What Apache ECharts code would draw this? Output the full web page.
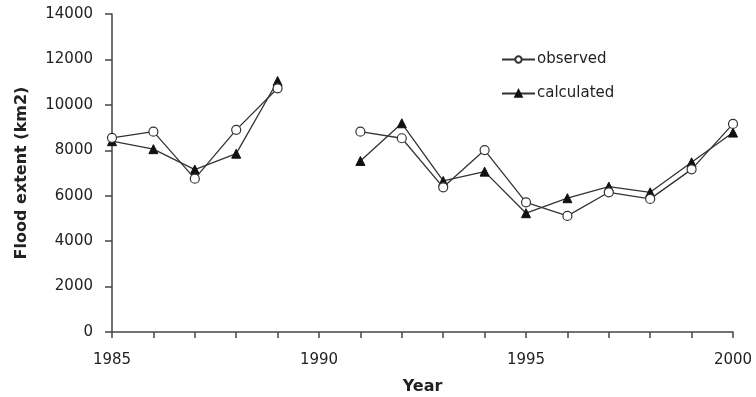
<!DOCTYPE html>
<html><head><meta charset="utf-8">
<script src="https://cdn.jsdelivr.net/npm/echarts@6/dist/echarts.min.js"></script>
<style>html,body{margin:0;padding:0;background:#fff}#c{width:756px;height:397px}</style>
</head><body><div id="c"></div>
<script>
var years = [1985,1986,1987,1988,1989,1990,1991,1992,1993,1994,1995,1996,1997,1998,1999,2000];
var observed   = [8550,8820,6750,8900,10730,null,8820,8530,6370,8010,5710,5110,6150,5860,7160,9160];
var calculated = [8400,8050,7150,7850,11050,null,7530,9190,6650,7060,5230,5890,6400,6150,7470,8780];
var yTicks = [0,2000,4000,6000,8000,10000,12000,14000];

function pairs(v){ return years.map(function(y,i){ return [y, v[i]===null?'-':v[i]]; }); }
var FONT = 'DejaVu Sans, sans-serif';
var chart = echarts.init(document.getElementById('c'));
chart.setOption({
  animation:false,
  backgroundColor:'#fff',
  grid:{left:112,right:23,top:14,bottom:65,outerBoundsMode:'none',containLabel:false},
  legend:{
    orient:'vertical', left:496, top:47, itemGap:19, itemWidth:33, itemHeight:8,
    textStyle:{fontFamily:FONT,fontSize:15,color:'#222',padding:[0,0,0,-3]},
    data:['observed','calculated']
  },
  xAxis:{
    type:'value', min:1985, max:2000, interval:1,
    name:'Year', nameLocation:'middle', nameGap:47,
    nameTextStyle:{fontFamily:FONT,fontSize:16,fontWeight:'bold',color:'#222'},
    axisLine:{lineStyle:{color:'#444',width:1.5}},
    axisTick:{length:6,lineStyle:{color:'#444',width:1.5}},
    axisLabel:{fontFamily:FONT,fontSize:15,color:'#222',margin:21,
      formatter:function(v){ return v%5===0 ? String(v) : ''; }},
    splitLine:{show:false}
  },
  yAxis:{
    type:'value', min:0, max:14000, interval:2000,
    name:'Flood extent (km2)', nameLocation:'middle', nameGap:82,
    nameTextStyle:{fontFamily:FONT,fontSize:16,fontWeight:'bold',color:'#222'},
    axisLine:{show:true,lineStyle:{color:'#444',width:1.5}},
    axisTick:{show:true,length:7,lineStyle:{color:'#444',width:1.5}},
    axisLabel:{fontFamily:FONT,fontSize:15,color:'#222',margin:19,
      formatter:function(v){ return yTicks.indexOf(v)>=0 ? String(v) : ''; }},
    splitLine:{show:false}
  },
  series:[
    {name:'observed',type:'line',data:pairs(observed),symbol:'circle',symbolSize:9,
     lineStyle:{color:'#333',width:1.3},
     itemStyle:{color:'#fff',borderColor:'#333',borderWidth:1.2},
     connectNulls:false, z:3},
    {name:'calculated',type:'line',data:pairs(calculated),symbol:'triangle',symbolSize:9,
     lineStyle:{color:'#333',width:1.3},
     itemStyle:{color:'#111',borderColor:'#111',borderWidth:1},
     connectNulls:false, z:2}
  ]
});
</script></body></html>
